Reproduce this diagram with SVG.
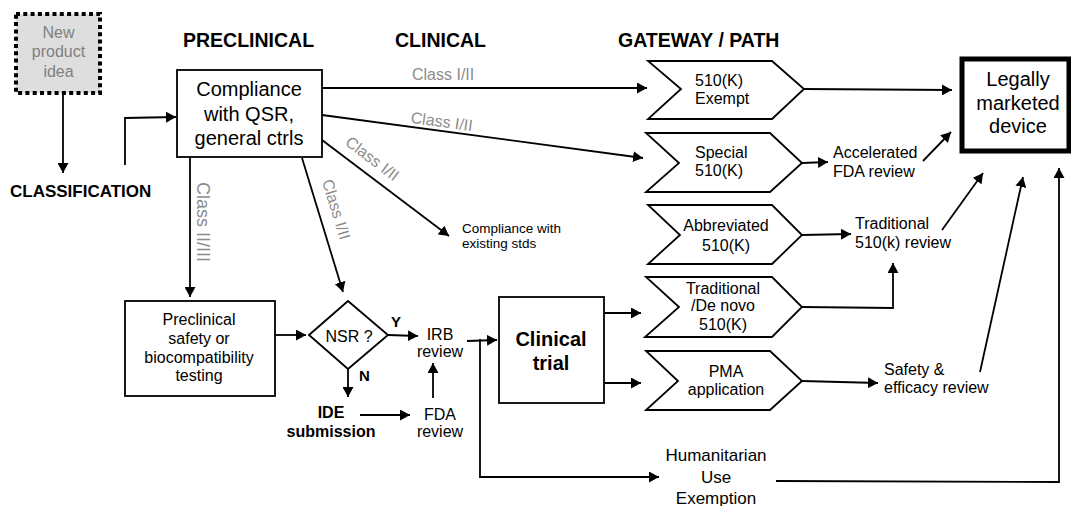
<svg xmlns="http://www.w3.org/2000/svg" width="1071" height="506" viewBox="0 0 1071 506">
<style>
text{font-family:"Liberation Sans",Arial,sans-serif;fill:#000}
.h{font-size:19.5px;font-weight:bold}
.t20{font-size:20px}
.t16{font-size:16px}
.b16{font-size:16px;font-weight:bold}
.c{text-anchor:middle}
.lbl{font-size:16px;fill:#8c8c8c}
.box{fill:#fff;stroke:#000;stroke-width:1.8}
.ln{fill:none;stroke:#000;stroke-width:1.8;marker-end:url(#ah)}
.pl{fill:none;stroke:#000;stroke-width:1.8}
</style>
<defs>
<marker id="ah" viewBox="0 0 10 11" refX="10" refY="5.5" markerWidth="10" markerHeight="11" markerUnits="userSpaceOnUse" orient="auto">
<path d="M0,0 L10,5.5 L0,11 z" fill="#000"/>
</marker>
</defs>
<rect width="1071" height="506" fill="#fff"/>

<g id="headings">
<text class="h" x="183" y="47">PRECLINICAL</text>
<text class="h" x="395" y="47">CLINICAL</text>
<text class="h" x="618" y="47">GATEWAY / PATH</text>
</g>

<g id="connectors">
<path class="ln" d="M63,95 L63,173"/>
<path class="ln" d="M125,165 L125,118 L176,117"/>
<path class="ln" d="M322,88 L647,88"/>
<path class="ln" d="M322,115 L643,158"/>
<path class="ln" d="M322,140 L449,236"/>
<path class="ln" d="M190,157 L190,297"/>
<path class="ln" d="M302,158 L343,292"/>
<path class="ln" d="M275,335 L306,335"/>
<path class="ln" d="M388,335 L418,336"/>
<path class="ln" d="M348,369 L348,397"/>
<path class="ln" d="M360,415 L410,415"/>
<path class="ln" d="M433,398 L433,363"/>
<path class="ln" d="M467,341 L497,340"/>
<path class="ln" d="M480,339 L480,477 L659,477"/>
<path class="ln" d="M604,313 L641,313"/>
<path class="ln" d="M604,383 L641,383"/>
<path class="ln" d="M804,89 L952,90"/>
<path class="ln" d="M802,163 L828,162"/>
<path class="ln" d="M923,161 L951,132"/>
<path class="ln" d="M802,235 L851,234"/>
<path class="ln" d="M802,307 L893,308 L893,263"/>
<path class="ln" d="M942,230 L983,173"/>
<path class="ln" d="M802,381 L878,383"/>
<path class="ln" d="M980,372 L1023,177"/>
<path class="ln" d="M776,481 L1059,482 L1059,168"/>
<text class="lbl" x="412" y="80">Class I/II</text>
<text class="lbl c" transform="translate(441,127) rotate(7.7)">Class I/II</text>
<text class="lbl c" transform="translate(369,163) rotate(37)">Class I/II</text>
<text class="lbl c" transform="translate(331,211) rotate(73)">Class I/II</text>
<text class="lbl c" style="font-size:18px" transform="translate(197,222) rotate(90)">Class II/III</text>
<text class="b16" x="391" y="327" style="font-size:15px">Y</text>
<text class="b16" x="359" y="381" style="font-size:15px">N</text>
</g>

<g id="new-idea">
<rect x="16" y="14" width="84" height="79" fill="#dedede" stroke="#000" stroke-width="4" stroke-dasharray="4 3.3"/>
<text class="t16 c" x="58.5" y="38" style="fill:#808080">New</text>
<text class="t16 c" x="58.5" y="57" style="fill:#808080">product</text>
<text class="t16 c" x="58.5" y="77" style="fill:#808080">idea</text>
</g>

<g id="classification">
<text x="10" y="197" style="font-size:17px;font-weight:bold">CLASSIFICATION</text>
</g>

<g id="compliance-qsr">
<rect class="box" x="177" y="70" width="145" height="87"/>
<text class="t20 c" x="249" y="96">Compliance</text>
<text class="t20 c" x="249" y="121">with QSR,</text>
<text class="t20 c" x="249" y="145">general ctrls</text>
</g>

<g id="preclinical-testing">
<rect class="box" x="125" y="301" width="150" height="95"/>
<text class="t16 c" x="199" y="325">Preclinical</text>
<text class="t16 c" x="199" y="344">safety or</text>
<text class="t16 c" x="199" y="363">biocompatibility</text>
<text class="t16 c" x="199" y="381">testing</text>
</g>

<g id="nsr">
<path class="box" d="M309,335 L348,301 L388,335 L348,369 Z"/>
<text class="t16 c" x="349" y="342">NSR ?</text>
</g>

<g id="irb-review">
<text class="t16 c" x="440" y="340">IRB</text>
<text class="t16 c" x="440" y="357">review</text>
</g>

<g id="ide-submission">
<text class="b16 c" x="331" y="418">IDE</text>
<text class="b16 c" x="331" y="437">submission</text>
</g>

<g id="fda-review">
<text class="t16 c" x="440" y="420">FDA</text>
<text class="t16 c" x="440" y="437">review</text>
</g>

<g id="clinical-trial">
<rect class="box" x="499" y="297" width="105" height="106"/>
<text class="c" x="551" y="346" style="font-size:20px;font-weight:bold">Clinical</text>
<text class="c" x="551" y="370" style="font-size:20px;font-weight:bold">trial</text>
</g>

<g id="existing-stds">
<text x="462" y="233" style="font-size:13.5px">Compliance with</text>
<text x="462" y="248" style="font-size:13.5px">existing stds</text>
</g>

<g id="exempt-510k">
<path class="box" d="M648,61 L772,61 L804,89 L772,119 L648,119 L681,89 Z"/>
<text class="t16" x="695" y="86">510(K)</text>
<text class="t16" x="695" y="104">Exempt</text>
</g>

<g id="special-510k">
<path class="box" d="M646,133 L770,133 L802,163 L770,192 L646,192 L679,163 Z"/>
<text class="t16" x="695" y="158">Special</text>
<text class="t16" x="695" y="176">510(K)</text>
</g>

<g id="abbreviated-510k">
<path class="box" d="M648,205 L772,205 L802,235 L772,264 L648,264 L680,235 Z"/>
<text class="t16 c" x="726" y="231">Abbreviated</text>
<text class="t16 c" x="726" y="251">510(K)</text>
</g>

<g id="traditional-510k">
<path class="box" d="M646,277 L772,277 L802,307 L772,337 L645,337 L679,307 Z"/>
<text class="t16 c" x="723" y="294">Traditional</text>
<text class="t16 c" x="723" y="311">/De novo</text>
<text class="t16 c" x="723" y="330">510(K)</text>
</g>

<g id="pma">
<path class="box" d="M646,351 L770,351 L802,381 L770,410 L646,410 L678,381 Z"/>
<text class="t16 c" x="726" y="377">PMA</text>
<text class="t16 c" x="726" y="395">application</text>
</g>

<g id="accelerated-review">
<text class="t16" x="833" y="158">Accelerated</text>
<text class="t16" x="833" y="177">FDA review</text>
</g>

<g id="traditional-review">
<text class="t16" x="855" y="229">Traditional</text>
<text class="t16" x="855" y="248">510(k) review</text>
</g>

<g id="safety-review">
<text class="t16" x="884" y="375">Safety &amp;</text>
<text class="t16" x="884" y="393">efficacy review</text>
</g>

<g id="hue">
<text class="c" x="716" y="461" style="font-size:17px">Humanitarian</text>
<text class="c" x="716" y="483" style="font-size:17px">Use</text>
<text class="c" x="716" y="504" style="font-size:17px">Exemption</text>
</g>

<g id="legally-marketed">
<rect x="962" y="59" width="107" height="92" fill="#fff" stroke="#000" stroke-width="5"/>
<text class="t20 c" x="1018" y="86">Legally</text>
<text class="t20 c" x="1018" y="110">marketed</text>
<text class="t20 c" x="1018" y="133">device</text>
</g>
</svg>
